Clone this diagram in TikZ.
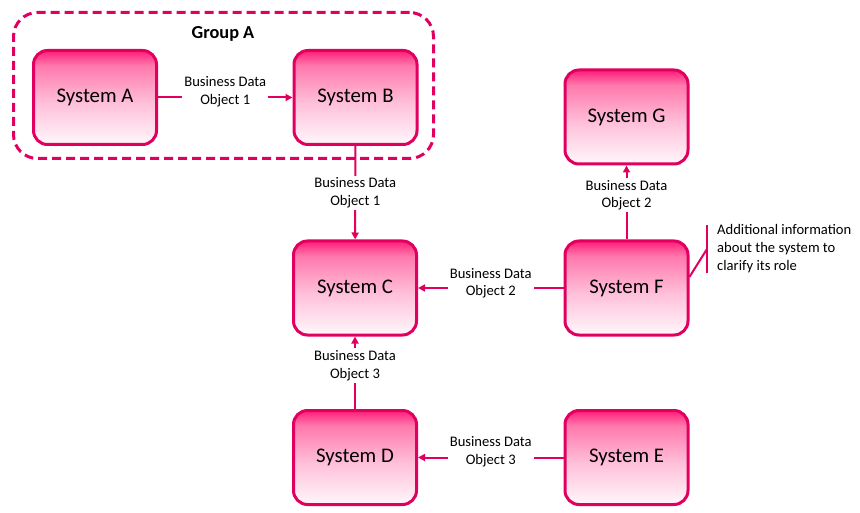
\documentclass[tikz,border=0pt]{standalone}
\usepackage{fontspec}
\setmainfont{Carlito}
\usetikzlibrary{arrows.meta,calc}

\definecolor{sysline}{RGB}{225,0,95}
\definecolor{systop}{RGB}{255,30,120}
\definecolor{syshi}{RGB}{255,120,172}
\definecolor{sysmid}{RGB}{255,192,217}
\definecolor{sysbot}{RGB}{255,247,251}
\pgfdeclareverticalshading{sysshade}{100bp}{color(0bp)=(sysbot); color(25bp)=(sysbot);
  color(47bp)=(sysmid); color(67bp)=(syshi); color(75bp)=(systop); color(100bp)=(systop)}

\tikzset{
  sysbox/.style={draw=sysline,line width=3pt,rounded corners=14pt,
    minimum width=123pt,minimum height=94pt,shading=sysshade,
    font=\fontsize{20.8}{25}\selectfont},
  flow/.style={draw=sysline,line width=2pt,-{Triangle[length=7pt,width=7pt]}},
  lbl/.style={fill=white,inner sep=2pt,align=center,text=black,
    font=\fontsize{14.6}{17.5}\selectfont},
  grp/.style={draw=sysline,line width=3pt,dash pattern=on 9pt off 5pt,
    rounded corners=24pt,minimum width=420pt,minimum height=146pt}
}

\begin{document}
\begin{tikzpicture}[x=1pt,y=-1pt]
\useasboundingbox (0,0) rectangle (860,513);

% group
\node[grp] (grpA) at (223.5,85.5) {};
\node[font=\fontsize{18.3}{22}\selectfont\bfseries] (grpAname) at (223,34) {Group A};

% systems
\node[sysbox] (A) at (95,97.5) {System A};
\node[sysbox] (B) at (355.5,97.5) {System B};
\node[sysbox] (C) at (355,288) {System C};
\node[sysbox] (D) at (355,457.5) {System D};
\node[sysbox] (E) at (626.5,457.5) {System E};
\node[sysbox] (F) at (626.5,288) {System F};
\node[sysbox] (G) at (626.5,117) {System G};

% flows
\draw[flow] (A) -- node[lbl,yshift=6pt] {Business Data\\Object 1} (B);
\draw[flow] (B) -- node[lbl] {Business Data\\Object 1} (C);
\draw[flow] (F) -- node[lbl,yshift=5pt] {Business Data\\Object 2} (C);
\draw[flow] (F) -- node[lbl,pos=0.6] {Business Data\\Object 2} (G);
\draw[flow] (D) -- node[lbl,pos=0.6] {Business Data\\Object 3} (C);
\draw[flow] (E) -- node[lbl,yshift=6pt] {Business Data\\Object 3} (D);

% note on F
\coordinate (noteTop) at (707,225);
\coordinate (noteBot) at (707,273);
\coordinate (noteMid) at (707,249);
\draw[sysline,line width=2pt] (noteTop) -- (noteBot);
\draw[sysline,line width=2pt] (F.10) -- (noteMid);
\node[anchor=west,align=left,inner sep=0pt,font=\fontsize{14.6}{18}\selectfont] (note)
  at ($(noteMid)+(10,0)$) {Additional information\\about the system to\\clarify its role};
\end{tikzpicture}
\end{document}
